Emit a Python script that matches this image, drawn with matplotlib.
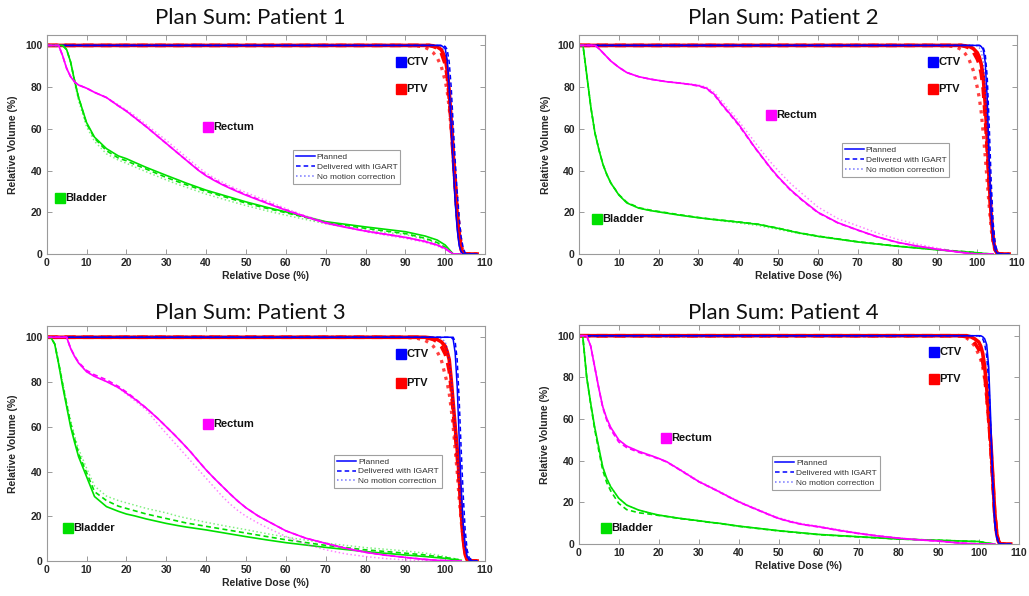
import numpy as np
import matplotlib
matplotlib.use("Agg")
import matplotlib.pyplot as plt
from matplotlib.lines import Line2D

# ----------------------------- data -----------------------------

# dose grids (relative dose, %)
BLADDER_DOSE = [0, 1, 2, 3, 4, 5, 6, 7, 8, 10, 12, 15, 18, 20, 22, 25, 30, 33, 35,
                40, 45, 50, 55, 60, 70, 80, 90, 95, 98, 100, 102, 104]
RECTUM_DOSE = [0, 1, 2, 3, 4, 5, 6, 7, 8, 10, 12, 15, 18, 20, 22, 25, 28, 30, 32, 34, 36, 38,
               40, 42, 44, 46, 48, 50, 53, 56, 60, 65, 70, 75, 80, 85, 90, 95, 98, 100, 102, 104]
TGT_DOSE = [0, 90, 93, 95, 96, 97, 98, 99, 100, 100.5, 101, 101.5, 102, 102.5,
            103, 103.5, 104, 104.5, 105, 105.5, 106, 107, 108]

VARIANTS = ["Planned", "Delivered with IGART", "No motion correction"]

# --- Patient 1 ---
P1_RECTUM_PLAN = [100, 100, 100, 100, 95, 89, 85, 82.5, 81, 79.5, 77.5, 75, 71, 68.5, 65.5, 61, 56.2, 53, 49.8,
                  46.6, 43.4, 40.2, 37.5, 35.3, 33.3, 31.5, 29.8, 28.2, 26, 23.8, 21, 17.8, 14.8, 12.8, 11, 9.5,
                  8, 6, 4.3, 2.7, 0, 0]
P1_RECTUM_IGART = [100, 100, 100, 100, 95, 89, 85, 82.5, 81, 79.5, 77.5, 75, 71, 68.5, 65.5, 61, 56.2, 53, 49.8,
                   46.6, 43.5, 40.4, 37.8, 35.6, 33.6, 31.8, 30.1, 28.5, 26.3, 24.1, 21.2, 18, 15, 13, 11, 9.5,
                   8, 6, 4.3, 2.5, 0, 0]
P1_RECTUM_NOMC = [100, 100, 100, 100, 95, 89, 85, 82.5, 81, 79.5, 77.5, 75, 71.5, 69, 66.5, 62, 57.5, 54.5, 51.3,
                  48.1, 44.9, 41.7, 38.8, 36.5, 34.5, 32.6, 31, 29.5, 27.2, 25, 21.8, 18.3, 15.3, 13, 10.7, 9,
                  7.5, 5.5, 3.8, 2.2, 0, 0]
P1_BLADDER_PLAN = [100, 100, 100, 100, 100, 98, 92, 83, 75, 63, 56, 50.5, 47, 45.7, 44, 41.5, 37.7, 35.5, 34,
                   30.6, 27.8, 25, 22.5, 20.2, 15.5, 13, 10.7, 8.6, 6.7, 4.3, 0, 0]
P1_BLADDER_IGART = [100, 100, 100, 100, 100, 98, 92, 83, 75, 62.5, 55.5, 49.5, 46, 44.7, 43, 40.7, 36.7, 34.6, 33.2,
                    30, 27.2, 24.4, 22, 19.8, 15.2, 12.3, 9.8, 7.5, 5.5, 3.2, 0, 0]
P1_BLADDER_NOMC = [100, 100, 100, 100, 100, 98, 92, 82, 73.5, 61, 54, 48, 45, 43.5, 41.8, 39.4, 35.5, 33.3, 32,
                   28.7, 25.9, 23.2, 20.8, 18.6, 14.5, 11.5, 9.3, 7, 5, 2.5, 0, 0]
P1_CTV_PLAN = [100, 100, 100, 100, 100, 100, 100, 100, 98.5, 93, 80, 62, 42, 25, 12, 4, 1, 0, 0, 0, 0, 0, 0]
P1_CTV_IGART = [100, 100, 100, 100, 100, 100, 100, 100, 99.5, 98, 92, 80, 62, 45, 30, 17, 8, 3, 0.5, 0, 0, 0, 0]
P1_CTV_NOMC = [100, 100, 100, 100, 100, 100, 100, 99.5, 97, 90, 75, 57, 40, 25, 13, 5, 1.5, 0, 0, 0, 0, 0, 0]
P1_PTV_PLAN = [100, 100, 100, 100, 100, 99.8, 99.3, 98, 94, 88, 78, 64, 48, 33, 19, 8, 2, 0.3, 0, 0, 0, 0, 0]
P1_PTV_IGART = [100, 100, 100, 100, 100, 99.5, 98.7, 96.5, 91, 85, 75, 62, 47, 33, 20, 10, 3, 0.5, 0, 0, 0, 0, 0]
P1_PTV_NOMC = [100, 100, 99.8, 99, 98, 96.5, 94, 90, 83, 78, 70, 60, 49, 37, 25, 14, 5, 1, 0, 0, 0, 0, 0]

# --- Patient 2 ---
P2_RECTUM_PLAN = [100, 100, 100, 100, 100, 98.5, 96.5, 94.5, 92.5, 89.5, 87, 85, 83.8, 83.2, 82.6, 82, 81.3, 80.7,
                  79.5, 76.5, 71.5, 67, 62.4, 57, 51.5, 46.5, 41.5, 37, 31, 26, 20, 15, 11.5, 8.2, 5.6, 3.8,
                  2.3, 1, 0.3, 0, 0, 0]
P2_RECTUM_IGART = [100, 100, 100, 100, 100, 98.5, 96.5, 94.5, 92.5, 89.5, 87, 85, 83.8, 83.2, 82.6, 82, 81.2, 80.5,
                   79.3, 76.2, 71.2, 66.7, 62, 56.7, 51.3, 46.3, 41.3, 36.8, 30.8, 25.8, 19.8, 14.9, 11.4, 8.1, 5.5,
                   3.7, 2.3, 1, 0.3, 0, 0, 0]
P2_RECTUM_NOMC = [100, 100, 100, 100, 100, 98.5, 96.5, 94.5, 92.5, 89.5, 87, 85, 83.8, 83.2, 82.6, 82, 81.5, 81,
                  80, 77.5, 73, 68.5, 64, 59, 54, 49, 44.3, 40, 34, 29, 22.5, 17, 13.5, 10, 7, 4.7,
                  2.8, 1.3, 0.5, 0.1, 0, 0]
P2_BLADDER_PLAN = [100, 100, 85, 70, 58, 50, 43, 38, 34, 28.3, 24.5, 22, 20.8, 20.2, 19.6, 18.7, 17.4, 16.7, 16.3,
                   15.3, 14.2, 12.3, 10.2, 8.5, 5.8, 3.7, 2, 1.3, 0.9, 0.6, 0.2, 0]
P2_BLADDER_IGART = [100, 100, 85, 70, 58, 50, 43, 38, 34, 28.5, 24.8, 22.2, 21, 20.4, 19.8, 18.9, 17.5, 16.8, 16.4,
                    15.4, 14.3, 12.4, 10.3, 8.6, 5.9, 3.8, 2.1, 1.4, 1, 0.6, 0.2, 0]
P2_BLADDER_NOMC = [100, 100, 85, 70, 58, 50, 43, 38, 34, 28.3, 24.5, 22, 20.8, 20.2, 19.6, 18.7, 17.4, 16.7, 16.1,
                   14.9, 13.6, 11.8, 9.9, 8.3, 5.7, 3.7, 2, 1.3, 0.9, 0.6, 0.2, 0]
P2_CTV_PLAN = [100, 100, 100, 100, 100, 100, 100, 100, 100, 100, 99.5, 98, 92, 75, 45, 20, 7, 2, 0.3, 0, 0, 0, 0]
P2_CTV_IGART = [100, 100, 100, 100, 100, 100, 100, 100, 100, 100, 99.8, 99, 96, 85, 62, 35, 15, 5, 1.5, 0.3, 0, 0, 0]
P2_CTV_NOMC = [100, 100, 100, 100, 100, 100, 100, 100, 99.8, 99, 97, 93, 80, 58, 35, 15, 5, 1, 0, 0, 0, 0, 0]
P2_PTV_PLAN = [100, 100, 100, 100, 100, 99.8, 99.5, 98.5, 96.5, 94.5, 91, 85, 72, 55, 35, 18, 7, 2, 0.3, 0, 0, 0, 0]
P2_PTV_IGART = [100, 100, 100, 100, 100, 99.5, 98.8, 97, 93.5, 91, 86.5, 79, 66, 50, 33, 18, 8, 2.5, 0.5, 0, 0, 0, 0]
P2_PTV_NOMC = [100, 100, 99.8, 99, 98, 96, 93, 88, 80, 75, 68, 58, 47, 35, 23, 12, 5, 1.5, 0.3, 0, 0, 0, 0]

# --- Patient 3 ---
P3_RECTUM_PLAN = [100, 100, 100, 100, 100, 100, 95, 91.4, 88.5, 84.6, 82.5, 80.2, 77.5, 75, 72.5, 68.3, 63.5, 60,
                  56.5, 52.8, 49, 44.8, 40.7, 37, 33.5, 30, 26.7, 23.8, 20.2, 17.3, 13.5, 10.2, 7.9, 5.7, 3.9, 2.6,
                  1.6, 0.7, 0.3, 0.2, 0, 0]
P3_RECTUM_IGART = [100, 100, 100, 100, 100, 100, 95, 91.6, 88.8, 85.2, 83.2, 81, 78, 75.5, 72.8, 68.3, 63.5, 60,
                   56.5, 52.8, 49, 44.8, 40.7, 37, 33.5, 30, 26.7, 23.8, 20.2, 17.3, 13.5, 10.2, 7.9, 5.7, 3.9, 2.6,
                   1.6, 0.7, 0.3, 0.2, 0, 0]
P3_RECTUM_NOMC = [100, 100, 100, 100, 100, 100, 95, 91.4, 88.5, 84.6, 82.5, 80.2, 77.3, 74.6, 71.8, 67.5, 61, 57,
                  53, 49, 45, 41, 37, 33, 29, 25.5, 22.5, 20, 17, 14.3, 11, 7.5, 5, 3.2, 2, 1.1,
                  0.5, 0.2, 0, 0, 0, 0]
P3_BLADDER_PLAN = [100, 100, 97, 88, 78, 69, 60, 53, 46.6, 37.7, 28.8, 24.3, 22.2, 21, 20.2, 18.8, 16.8, 15.8, 15.2,
                   13.9, 12.4, 10.9, 9.5, 8.2, 6.1, 4.2, 2.7, 2, 1.5, 1.2, 0.7, 0.3]
P3_BLADDER_IGART = [100, 100, 97, 88.5, 79, 70, 61.5, 54.5, 48, 39.5, 31, 27, 24.5, 23.5, 22.5, 21, 19, 17.8, 17,
                    15.5, 14, 12.5, 11, 9.5, 7, 5, 3.5, 2.7, 2, 1.6, 1, 0.4]
P3_BLADDER_NOMC = [100, 100, 97.5, 89, 80, 71, 63, 56, 50, 41.5, 33.5, 29, 27, 26, 25, 23.5, 21.5, 20, 19.2,
                   17.3, 15.6, 14, 12.3, 10.7, 8, 6, 4.5, 3.5, 2.7, 2, 1.2, 0.5]
P3_CTV_PLAN = [100, 100, 100, 100, 100, 100, 100, 100, 100, 100, 100, 100, 99, 93, 78, 55, 33, 17, 7, 2, 0.5, 0, 0]
P3_CTV_IGART = [100, 100, 100, 100, 100, 100, 100, 100, 100, 100, 100, 100, 100, 98, 90, 72, 50, 30, 14, 5, 1.5, 0, 0]
P3_CTV_NOMC = [100, 100, 100, 100, 100, 100, 100, 99.5, 98, 95, 90, 82, 72, 60, 48, 35, 22, 12, 5, 1.5, 0.3, 0, 0]
P3_PTV_PLAN = [100, 100, 100, 100, 99.8, 99.5, 99, 98, 96, 93.5, 90, 81, 70.5, 60, 50, 38, 22, 10, 3, 0.5, 0, 0, 0]
P3_PTV_IGART = [100, 100, 100, 99.8, 99.5, 99, 98, 96, 92.5, 89.5, 85, 77, 67, 57, 47, 36, 22, 11, 4, 1, 0, 0, 0]
P3_PTV_NOMC = [100, 100, 99.5, 98.5, 97.5, 96, 93.5, 90, 83, 79.5, 75, 68, 60, 50, 40, 28, 18, 10, 4, 1, 0, 0, 0]

# --- Patient 4 ---
P4_RECTUM_PLAN = [100, 100, 100, 95, 85, 75, 66, 60.3, 56, 50, 47, 44.5, 42.5, 41.1, 39.5, 36, 32.4, 30,
                  28.1, 26.2, 24.2, 22.2, 20.3, 18.6, 17, 15.4, 13.8, 12.3, 10.7, 9.4, 8.3, 6.6, 5.1, 3.8, 2.8, 2,
                  1.4, 0.5, 0.2, 0, 0, 0]
P4_RECTUM_IGART = [100, 100, 100, 95, 85, 75, 65.5, 59.5, 55, 49, 46.3, 44, 42.2, 40.9, 39.4, 35.9, 32.3, 29.9,
                   28, 26.1, 24.1, 22.1, 20.2, 18.5, 16.9, 15.3, 13.7, 12.2, 10.6, 9.3, 8.2, 6.5, 5, 3.8, 2.8, 2,
                   1.4, 0.5, 0.2, 0, 0, 0]
P4_RECTUM_NOMC = [100, 100, 100, 95, 85, 75, 66, 60.3, 56, 50, 47, 44.5, 42.5, 41.1, 39.5, 36.3, 32.7, 30.3,
                  28.4, 26.5, 24.5, 22.5, 20.6, 18.9, 17.3, 15.7, 14.1, 12.6, 11, 9.7, 8.6, 6.9, 5.3, 4, 2.9, 2.1,
                  1.5, 0.6, 0.2, 0, 0, 0]
P4_BLADDER_PLAN = [100, 100, 80, 67.5, 56, 46.5, 37, 31.5, 27.5, 22, 18.7, 16.3, 14.8, 13.9, 13.3, 12.4, 11.2, 10.4,
                   10, 8.6, 7.5, 6.4, 5.5, 4.6, 3.5, 2.4, 1.8, 1.5, 1.3, 1.2, 0.5, 0]
P4_BLADDER_IGART = [100, 100, 80, 67, 55, 45, 35.5, 29.5, 25.5, 19.5, 16.5, 15, 14.3, 13.7, 13.2, 12.3, 11.1, 10.3,
                    9.9, 8.5, 7.4, 6.3, 5.4, 4.5, 3.4, 2.4, 1.8, 1.5, 1.3, 1.2, 0.5, 0]
P4_BLADDER_NOMC = [100, 100, 80, 67.5, 56, 46.5, 37, 31.5, 27.5, 22, 18.7, 16.3, 14.8, 13.9, 13.3, 12.4, 11.2, 10.4,
                   10, 8.6, 7.5, 6.4, 5.5, 4.6, 3.5, 2.4, 1.8, 1.5, 1.3, 1.2, 0.5, 0]
P4_CTV_PLAN = [100, 100, 100, 100, 100, 100, 100, 100, 100, 100, 99.5, 98.5, 95.7, 85, 60, 30, 10, 3, 0.5, 0, 0, 0, 0]
P4_CTV_IGART = [100, 100, 100, 100, 100, 100, 100, 100, 100, 99.5, 98.5, 96, 90, 78, 55, 30, 12, 4, 1, 0, 0, 0, 0]
P4_CTV_NOMC = [100, 100, 100, 100, 100, 100, 100, 100, 100, 99.8, 99, 97, 92, 80, 57, 30, 11, 3, 0.5, 0, 0, 0, 0]
P4_PTV_PLAN = [100, 100, 100, 100, 100, 100, 99.5, 98.5, 97, 95, 91.5, 85, 75, 62, 50, 33, 15, 5, 1, 0, 0, 0, 0]
P4_PTV_IGART = [100, 100, 100, 100, 99.8, 99.5, 98.5, 96.5, 93.5, 91, 87.5, 81, 72, 60, 47, 31, 15, 5, 1, 0, 0, 0, 0]
P4_PTV_NOMC = [100, 100, 100, 100, 99.5, 98.8, 97.5, 95, 91, 88.5, 85, 79, 70, 58, 46, 30, 14, 5, 1, 0, 0, 0, 0]

TITLES = ["Plan Sum: Patient 1", "Plan Sum: Patient 2", "Plan Sum: Patient 3", "Plan Sum: Patient 4"]

# label positions (dose, volume) for structure names, per patient
LABEL_POS = [
    {"CTV": (88.9, 92.2), "PTV": (88.9, 79.2), "Rectum": (40.5, 61.1), "Bladder": (3.3, 26.7)},
    {"CTV": (88.9, 92.2), "PTV": (88.9, 79.2), "Rectum": (48.2, 66.8), "Bladder": (4.5, 17.0)},
    {"CTV": (88.9, 92.7), "PTV": (88.9, 79.7), "Rectum": (40.5, 61.3), "Bladder": (5.4, 14.8)},
    {"CTV": (88.8, 92.2), "PTV": (88.8, 79.2), "Rectum": (21.8, 50.9), "Bladder": (6.8, 7.7)},
]

PANELS = [
    {"Rectum": (P1_RECTUM_PLAN, P1_RECTUM_IGART, P1_RECTUM_NOMC),
     "Bladder": (P1_BLADDER_PLAN, P1_BLADDER_IGART, P1_BLADDER_NOMC),
     "PTV": (P1_PTV_PLAN, P1_PTV_IGART, P1_PTV_NOMC),
     "CTV": (P1_CTV_PLAN, P1_CTV_IGART, P1_CTV_NOMC)},
    {"Rectum": (P2_RECTUM_PLAN, P2_RECTUM_IGART, P2_RECTUM_NOMC),
     "Bladder": (P2_BLADDER_PLAN, P2_BLADDER_IGART, P2_BLADDER_NOMC),
     "PTV": (P2_PTV_PLAN, P2_PTV_IGART, P2_PTV_NOMC),
     "CTV": (P2_CTV_PLAN, P2_CTV_IGART, P2_CTV_NOMC)},
    {"Rectum": (P3_RECTUM_PLAN, P3_RECTUM_IGART, P3_RECTUM_NOMC),
     "Bladder": (P3_BLADDER_PLAN, P3_BLADDER_IGART, P3_BLADDER_NOMC),
     "PTV": (P3_PTV_PLAN, P3_PTV_IGART, P3_PTV_NOMC),
     "CTV": (P3_CTV_PLAN, P3_CTV_IGART, P3_CTV_NOMC)},
    {"Rectum": (P4_RECTUM_PLAN, P4_RECTUM_IGART, P4_RECTUM_NOMC),
     "Bladder": (P4_BLADDER_PLAN, P4_BLADDER_IGART, P4_BLADDER_NOMC),
     "PTV": (P4_PTV_PLAN, P4_PTV_IGART, P4_PTV_NOMC),
     "CTV": (P4_CTV_PLAN, P4_CTV_IGART, P4_CTV_NOMC)},
]
DOSE_GRID = {"PTV": TGT_DOSE, "CTV": TGT_DOSE, "Rectum": RECTUM_DOSE, "Bladder": BLADDER_DOSE}

# ----------------------------- style -----------------------------

COLORS = {"CTV": "#0000ff", "PTV": "#ff0000", "Rectum": "#ff00ff", "Bladder": "#00e000"}
WIDTHS = {"CTV": 1.1, "PTV": 2.6, "Rectum": 1.2, "Bladder": 1.2}
LINESTYLES = ["-", (0, (3, 2)), ":"]
DOT_ALPHA = {"CTV": 0.55, "PTV": 0.75, "Rectum": 0.5, "Bladder": 0.5}

AXES_RECTS = [
    [0.0454, 0.5738, 0.4260, 0.3675],
    [0.5627, 0.5738, 0.4257, 0.3675],
    [0.0454, 0.0587, 0.4260, 0.3942],
    [0.5624, 0.0872, 0.4276, 0.3670],
]
TITLE_POS = [(0.243, 0.970), (0.761, 0.970), (0.243, 0.475), (0.761, 0.475)]
LEGEND_POS = [(0.562, 0.473), (0.600, 0.505), (0.656, 0.452), (0.440, 0.402)]

plt.rcParams["font.family"] = ["Liberation Sans", "DejaVu Sans"]

GRAY = "#262626"
SPINE = "#9a9a9a"


def draw_panel(ax, curves, labels, legend_xy):
    # targets first, then OARs on top
    for name in ["PTV", "CTV", "Bladder", "Rectum"]:
        dose = DOSE_GRID[name]
        for vol, ls in zip(curves[name], LINESTYLES):
            alpha = DOT_ALPHA[name] if ls == ":" else 1.0
            lw = WIDTHS[name] if ls != ":" else WIDTHS[name] * 0.9
            ax.plot(dose, vol, color=COLORS[name], ls=ls, lw=lw, alpha=alpha)

    for name, (x, y) in labels.items():
        ax.plot([x], [y], "s", ms=7.5, color=COLORS[name], mec=COLORS[name])
        ax.text(x + 1.3, y, name, fontsize=8, fontweight="bold", va="center", color="#111111")

    ax.set_xlim(0, 110)
    ax.set_ylim(0, 105)
    ax.set_xticks(np.arange(0, 111, 10))
    ax.set_yticks(np.arange(0, 101, 20))
    ax.tick_params(direction="in", length=3.5, width=0.7, top=True, right=True,
                   labelsize=7.5, colors=SPINE, labelcolor=GRAY, pad=3)
    for lab in ax.get_xticklabels() + ax.get_yticklabels():
        lab.set_fontweight("bold")
    for sp in ax.spines.values():
        sp.set_color(SPINE)
        sp.set_linewidth(0.8)
    ax.set_xlabel("Relative Dose (%)", fontsize=7.5, fontweight="bold", color=GRAY, labelpad=2)
    ax.set_ylabel("Relative Volume (%)", fontsize=7.5, fontweight="bold", color=GRAY, labelpad=5)

    handles = [Line2D([], [], color="#0000ff", ls=ls, lw=1.1, alpha=(0.55 if ls == ":" else 1.0))
               for ls in LINESTYLES]
    leg = ax.legend(handles, VARIANTS, loc="upper left", bbox_to_anchor=legend_xy,
                    fontsize=6, frameon=True, fancybox=False, framealpha=1,
                    handlelength=2.3, handletextpad=0.2, borderpad=0.35,
                    labelspacing=0.25, borderaxespad=0)
    leg.get_frame().set_edgecolor("#a0a0a0")
    leg.get_frame().set_linewidth(0.8)
    for t in leg.get_texts():
        t.set_color("#333333")


fig = plt.figure(figsize=(10.29, 5.96), dpi=100)
for i in range(4):
    ax = fig.add_axes(AXES_RECTS[i])
    draw_panel(ax, PANELS[i], LABEL_POS[i], LEGEND_POS[i])
    fig.text(TITLE_POS[i][0], TITLE_POS[i][1], TITLES[i], ha="center", va="center",
             fontsize=16, family=["Lato", "DejaVu Sans"], color="#111111")

fig.savefig("out.png", dpi=100)
